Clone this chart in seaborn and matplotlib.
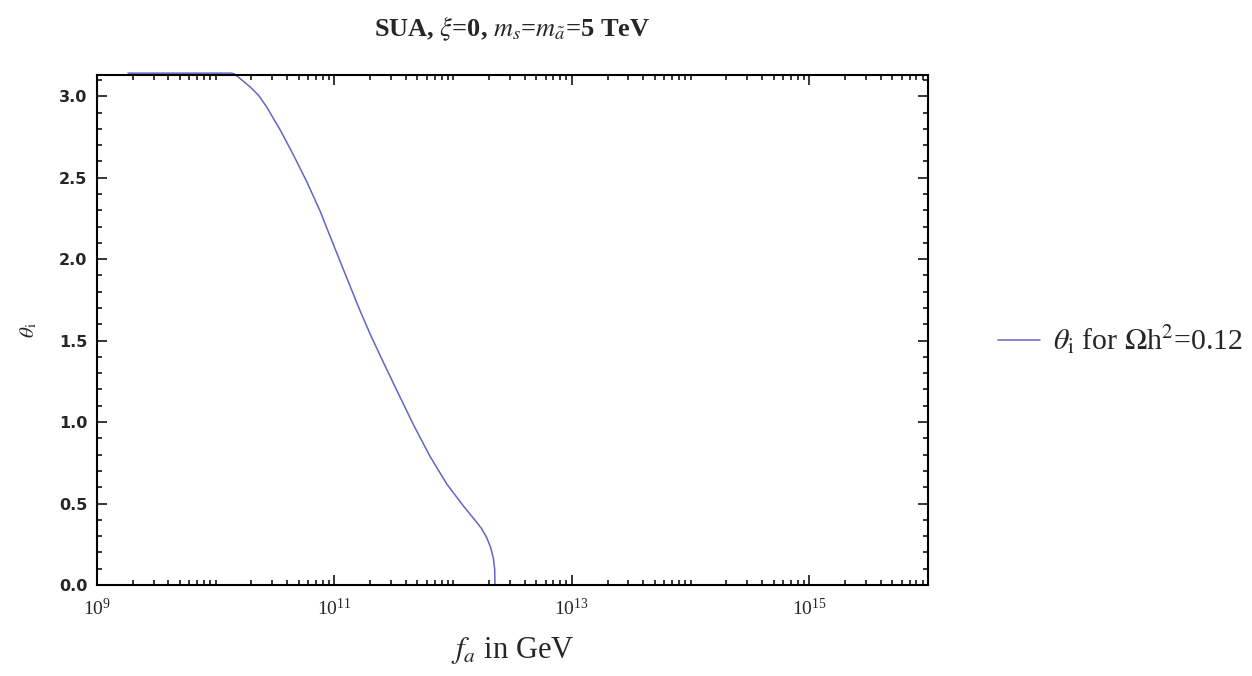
import numpy as np
import pandas as pd
import matplotlib
matplotlib.use("Agg")
import matplotlib.pyplot as plt
from matplotlib.ticker import FixedLocator, MultipleLocator, LogFormatterMathtext, NullFormatter
import seaborn as sns

# Initial misalignment angle required for the relic abundance, vs. decay constant
fa_gev = [1.82e9, 1.36e10, 1.45e10, 1.60e10, 1.95e10, 2.29e10, 2.69e10, 3.05e10,
          3.48e10, 4.51e10, 5.85e10, 7.57e10, 9.79e10, 1.27e11, 1.64e11, 2.00e11,
          2.42e11, 3.35e11, 4.62e11, 6.38e11, 8.83e11, 1.22e12, 1.58e12, 1.74e12,
          1.92e12, 2.07e12, 2.18e12, 2.24e12, 2.25e12]
theta_i = [3.1416, 3.1416, 3.135, 3.109, 3.057, 3.006, 2.934, 2.865,
           2.795, 2.64, 2.475, 2.295, 2.09, 1.885, 1.685, 1.54,
           1.41, 1.195, 0.985, 0.79, 0.62, 0.485, 0.385, 0.345,
           0.29, 0.23, 0.165, 0.095, 0.0]

series_label = r"$\theta_{\rm i}$ for $\Omega$h$^2$=0.12"
title_text = r"SUA, $\xi$=0, $m_s$=$m_{\tilde{a}}$=5 TeV"
x_major = [1e9, 1e11, 1e13, 1e15]
y_major = [0.0, 0.5, 1.0, 1.5, 2.0, 2.5, 3.0]

sns.set_style("ticks")
plt.rcParams["font.family"] = ["Liberation Serif", "DejaVu Serif"]
plt.rcParams["mathtext.fontset"] = "stix"

df = pd.DataFrame({"fa": fa_gev, "theta": theta_i, "curve": series_label})

fig = plt.figure(figsize=(12.52, 6.76), dpi=100)
ax = fig.add_axes([0.0775, 0.1346, 0.6637, 0.7544])

sns.lineplot(data=df, x="fa", y="theta", hue="curve", sort=False,
             palette=["#6464c4"], linewidth=1.1, ax=ax, legend=True)
for ln in ax.lines:
    ln.set_clip_on(False)

ax.set_xscale("log")
ax.set_xlim(1e9, 1e16)
ax.set_ylim(0, 3.13)

# log axis: labelled majors every second decade, all others minor
minors = []
for e in range(9, 16):
    for m in range(1, 10):
        v = m * 10.0 ** e
        if v not in x_major and v <= 1e16:
            minors.append(v)
ax.xaxis.set_major_locator(FixedLocator(x_major))
ax.xaxis.set_major_formatter(LogFormatterMathtext())
ax.xaxis.set_minor_locator(FixedLocator(minors))
ax.xaxis.set_minor_formatter(NullFormatter())

ax.yaxis.set_major_locator(FixedLocator(y_major))
ax.yaxis.set_minor_locator(MultipleLocator(0.1))
ax.set_yticklabels([f"{v:.1f}" for v in y_major], family="DejaVu Sans",
                   fontsize=11.5, fontweight="semibold")

ax.tick_params(which="both", direction="in", top=True, right=True,
               width=1.1, color="black")
ax.tick_params(which="major", length=7, pad=7)
ax.tick_params(which="minor", length=3.5)
ax.tick_params(axis="x", which="major", labelsize=14, pad=9)
for s in ax.spines.values():
    s.set_linewidth(1.5)
    s.set_color("black")

ax.set_xlabel(r"$f_a$ in GeV", fontsize=22, labelpad=12)
ax.set_ylabel(r"$\theta_{\rm i}$", fontsize=15, labelpad=14)
ax.set_title(title_text, fontsize=19, fontweight="bold", pad=28)

handles, labels = ax.get_legend_handles_labels()
ax.get_legend().remove()
fig.legend(handles, labels, loc="center left", bbox_to_anchor=(0.797, 0.497),
           frameon=False, fontsize=21.5, handlelength=1.4, handletextpad=0.45,
           borderpad=0, borderaxespad=0)

fig.savefig("out.png", dpi=100)
